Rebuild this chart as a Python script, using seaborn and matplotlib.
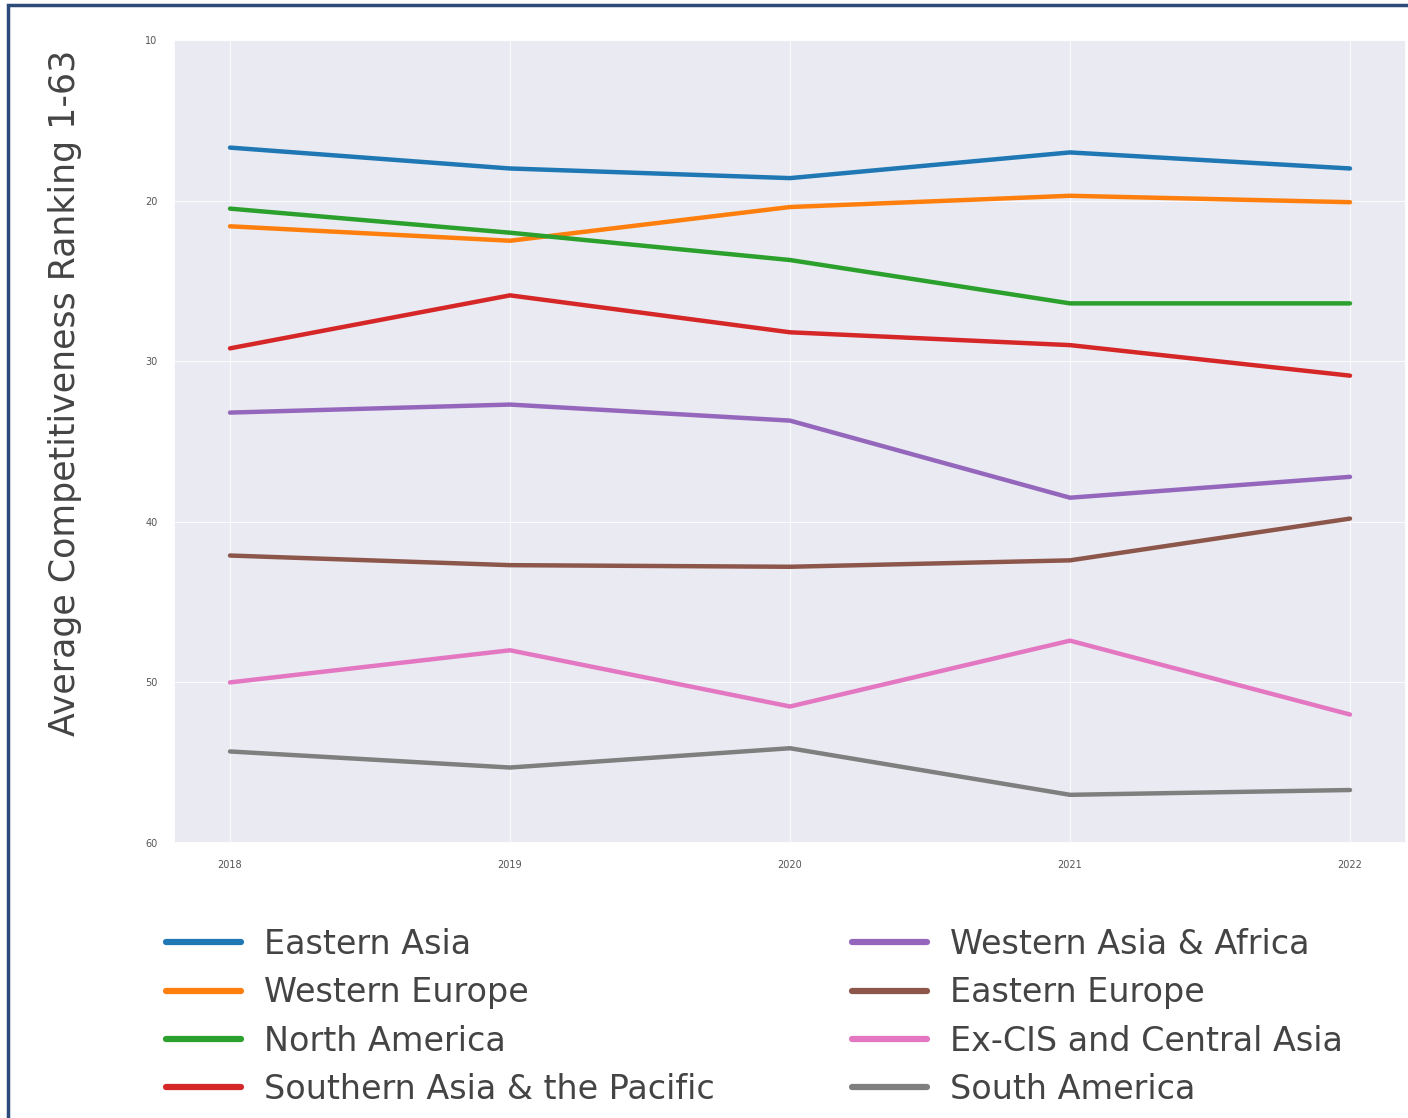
import numpy as np
import pandas as pd
import matplotlib
matplotlib.use("Agg")
import matplotlib.pyplot as plt
import seaborn as sns
from matplotlib.patches import Rectangle

years = [2018, 2019, 2020, 2021, 2022]
eastern_asia = [16.7, 18.0, 18.6, 17.0, 18.0]
western_europe = [21.6, 22.5, 20.4, 19.7, 20.1]
north_america = [20.5, 22.0, 23.7, 26.4, 26.4]
southern_asia_pacific = [29.2, 25.9, 28.2, 29.0, 30.9]
western_asia_africa = [33.2, 32.7, 33.7, 38.5, 37.2]
eastern_europe = [42.1, 42.7, 42.8, 42.4, 39.8]
ex_cis_central_asia = [50.0, 48.0, 51.5, 47.4, 52.0]
south_america = [54.3, 55.3, 54.1, 57.0, 56.7]

regions = ["Eastern Asia", "Western Europe", "North America",
           "Southern Asia & the Pacific", "Western Asia & Africa",
           "Eastern Europe", "Ex-CIS and Central Asia", "South America"]
series = [eastern_asia, western_europe, north_america, southern_asia_pacific,
          western_asia_africa, eastern_europe, ex_cis_central_asia, south_america]

df = pd.DataFrame([
    {"Year": y, "Region": r, "Rank": v}
    for r, vals in zip(regions, series) for y, v in zip(years, vals)
])

sns.set_theme(style="darkgrid", rc={"grid.linewidth": 0.6})
plt.rcParams['font.family'] = ['DejaVu Sans']

fig = plt.figure(figsize=(14.08, 11.18), dpi=100)
ax = fig.add_axes([174/1408, 275/1118, 1232/1408, 803/1118])
palette = sns.color_palette("tab10", 8)
sns.lineplot(data=df, x="Year", y="Rank", hue="Region", hue_order=regions,
             palette=palette, linewidth=3.2, ax=ax)

ax.set_ylim(60, 10)
ax.set_yticks([10, 20, 30, 40, 50, 60])
ax.set_xticks(years)
ax.set_xticklabels([str(y) for y in years])
ax.tick_params(axis="both", labelsize=7, colors="#555555", pad=6)
ax.set_xlabel("")
ax.set_ylabel("Average Competitiveness Ranking 1-63", fontsize=25, color="#444444")
ax.yaxis.set_label_coords(-0.075, 0.56)

handles, labels = ax.get_legend_handles_labels()
ax.legend_.remove()
leg = fig.legend(handles, labels, loc="upper left", bbox_to_anchor=(136/1408, 1 - 898/1118),
                 ncol=2, fontsize=24, frameon=False, columnspacing=4.1,
                 handlelength=2.25, handletextpad=0.7, labelspacing=0.46)
for t in leg.get_texts():
    t.set_color("#444444")
for h in leg.legend_handles:
    h.set_linewidth(4.5)

fig.patches.append(Rectangle((8/1408, -0.01), 1.05, 1 - 5/1118 + 0.01, transform=fig.transFigure,
                             fill=False, edgecolor="#2c4a7a", linewidth=2.5))

fig.savefig("out.png", dpi=100)
